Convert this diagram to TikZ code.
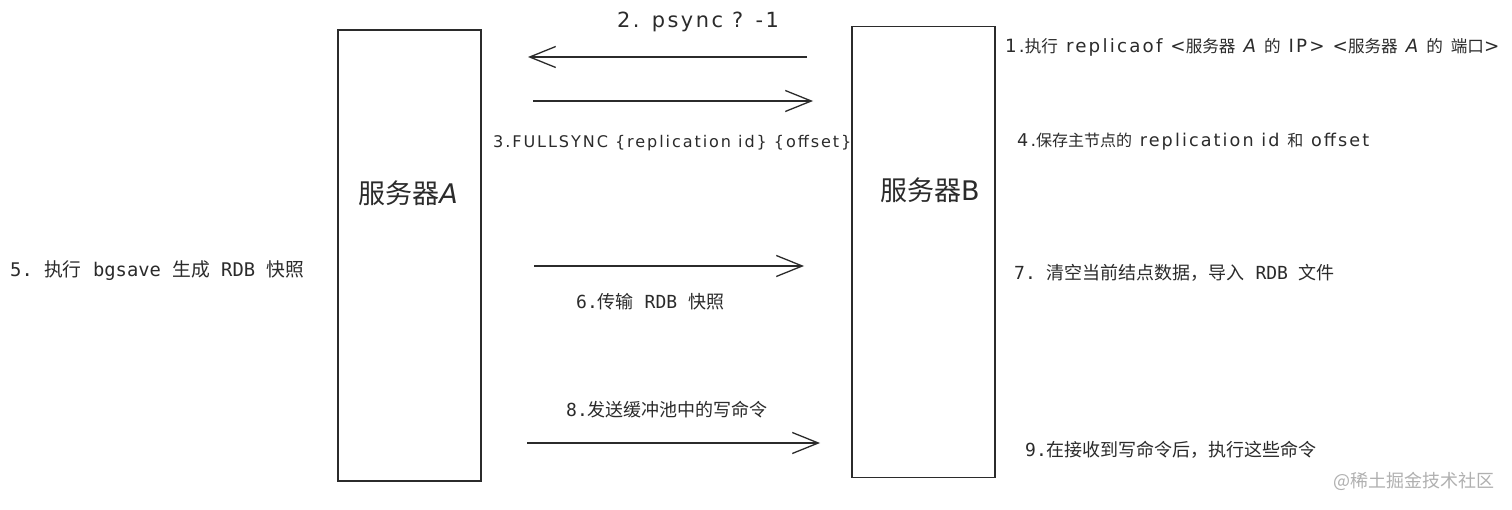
\documentclass[tikz,border=0pt]{standalone}
\usepackage{fontspec}
\setmainfont{Noto Sans CJK SC}
\newfontfamily\hand[LetterSpace=12,Scale=1.1]{DejaVu Sans}
\newfontfamily\mono{DejaVu Sans Mono}
\usepackage{tikz}
\usetikzlibrary{arrows.meta}
\definecolor{ink}{HTML}{2B2B2B}
\definecolor{mark}{HTML}{B0B0B0}

\begin{document}
\begin{tikzpicture}[x=1pt,y=-1pt,
  server/.style={draw=ink, line width=1.4pt, minimum width=143pt, minimum height=451pt, inner sep=0pt},
  msg/.style={draw=ink, line width=1.3pt, -{Straight Barb[length=26pt,width=21pt,line width=1.3pt]}},
  note/.style={text=ink, inner sep=0pt, anchor=west, font=\fontsize{16}{18}\selectfont},
  plain/.style={note, font=\fontsize{18}{20}\selectfont},
  big/.style={text=ink, inner sep=0pt, font=\fontsize{27}{30}\selectfont}]
\fill[white] (0,0) rectangle (1512,510);
\useasboundingbox (0,0) rectangle (1512,510);

% the two servers
\node[server] (A) at (409.5,255.5) {};
\node[server] (B) at (923.5,252) {};
\node[big] (Alabel) at (408,193) {服务器{\fontspec{DejaVu Sans}\itshape A}};
\node[big] (Blabel) at (930,190) {服务器{\fontspec{DejaVu Sans}B}};

% free ends of the messages
\coordinate (p2s) at (807,57);  \coordinate (p2e) at (528,57);
\coordinate (p3s) at (533,101); \coordinate (p3e) at (813,101);
\coordinate (p6s) at (534,266); \coordinate (p6e) at (804,266);
\coordinate (p8s) at (527,443); \coordinate (p8e) at (820,443);

\draw[msg] (p2s) -- (p2e);
\draw[msg] (p3s) -- (p3e);
\draw[msg] (p6s) -- (p6e);
\draw[msg] (p8s) -- (p8e);

% labels
\node[big, font=\fontsize{19}{22}\selectfont] (psync) at (698,22) {\hand 2. psync ? -1};
\node[note, font=\fontsize{14.6}{18}\selectfont] (full) at (493,143) {\hand 3.FULLSYNC \{replication id\} \{offset\}};
\node[note, font=\fontsize{16.6}{18}\selectfont] (n1) at (1005,47) {{\hand 1.}执行{\hand\ replicaof <}服务器{\hand\ \itshape A\ }的{\hand\ IP> <}服务器{\hand\ \itshape A\ }的{\hand\ }端口{\hand >}};
\node[note] (n4) at (1017,142) {{\hand 4.}保存主节点的{\hand\ replication id\ }和{\hand\ offset}};
\node[plain, font=\fontsize{18.8}{20}\selectfont] (n5) at (10,271) {{\mono 5.\ }执行{\mono\ bgsave\ }生成{\mono\ RDB\ }快照};
\node[plain] (n6) at (576,302) {{\mono 6.}传输{\mono\ RDB\ }快照};
\node[plain] (n7) at (1014,273) {{\mono 7.\ }清空当前结点数据，导入{\mono\ RDB\ }文件};
\node[plain] (n8) at (566,410) {{\mono 8.}发送缓冲池中的写命令};
\node[plain] (n9) at (1025,450) {{\mono 9.}在接收到写命令后，执行这些命令};
\node[plain, text=mark] (wm) at (1333,481) {@稀土掘金技术社区};
\end{tikzpicture}
\end{document}
